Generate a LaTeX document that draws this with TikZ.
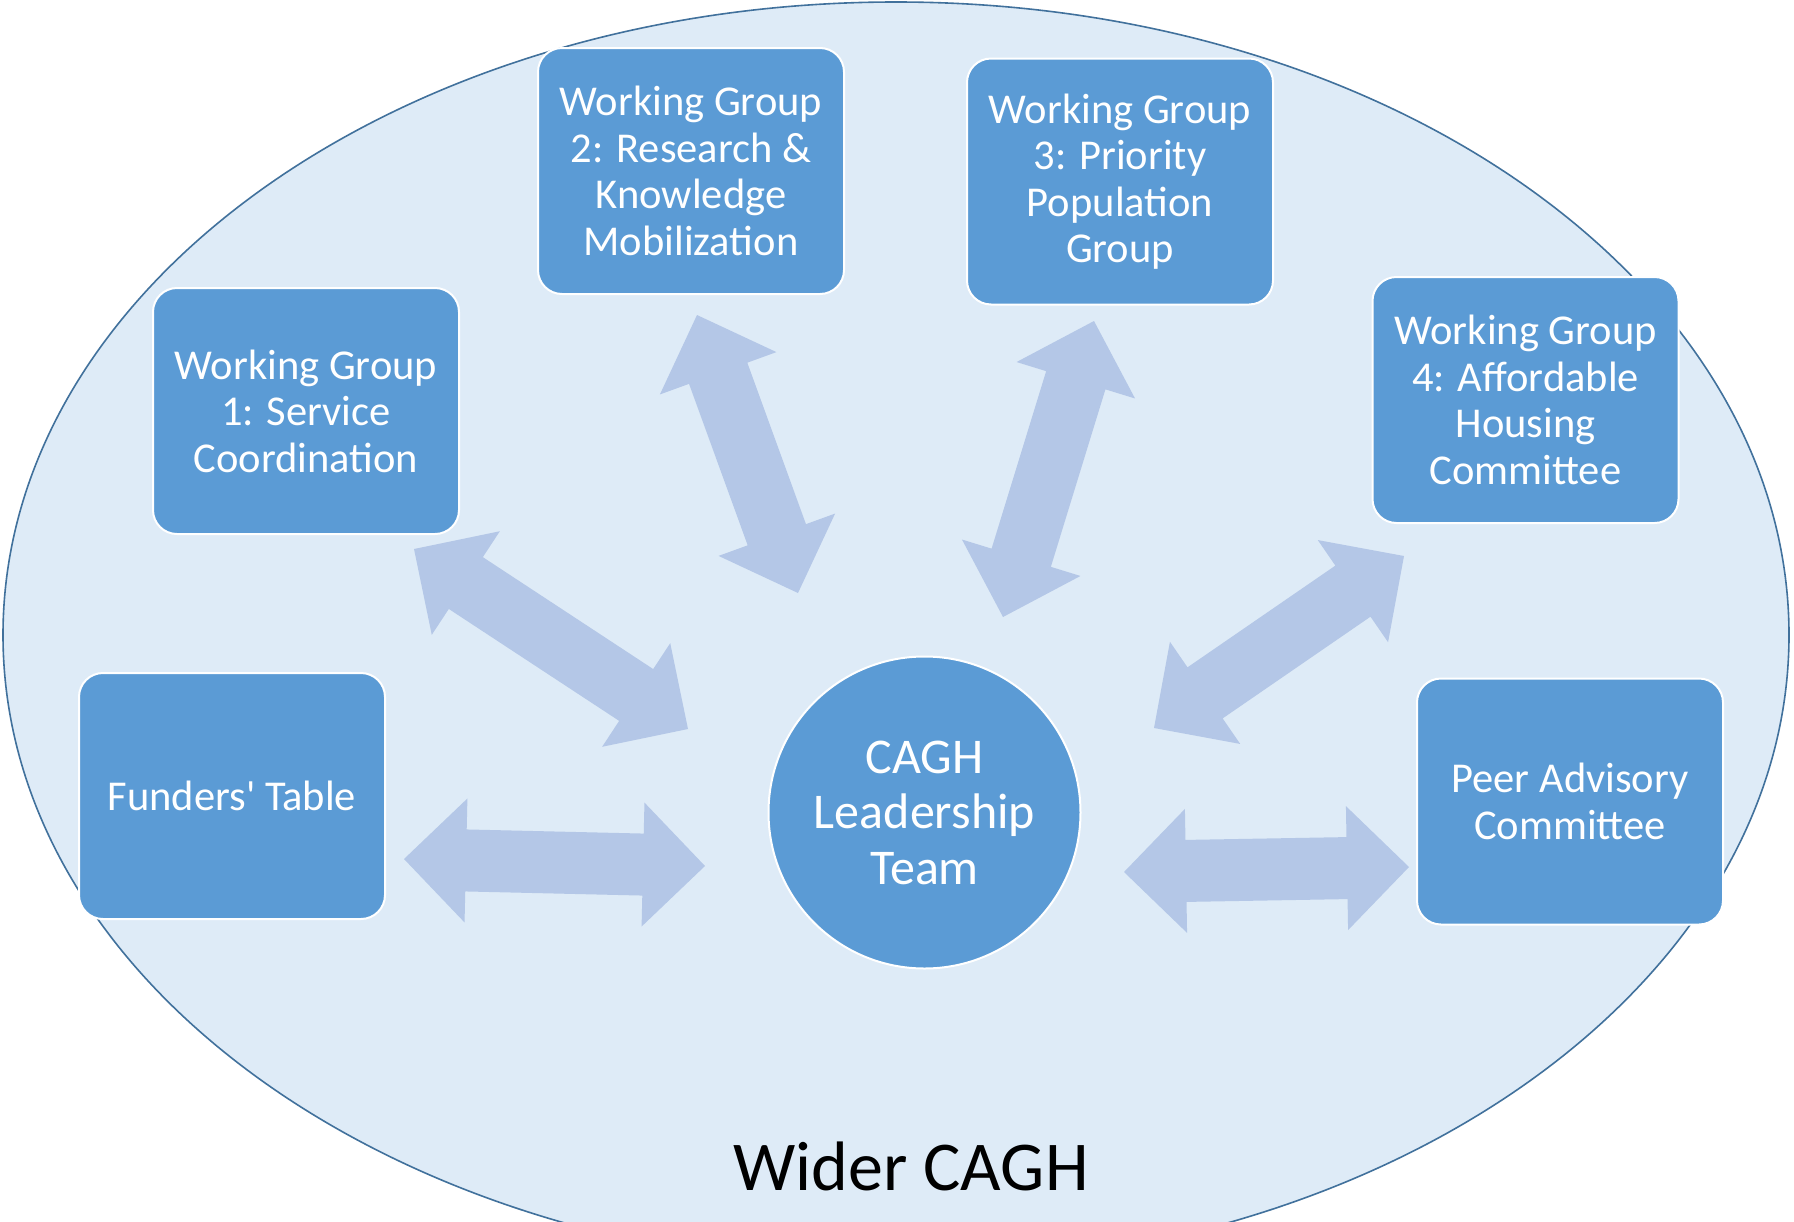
\documentclass[tikz,border=0pt]{standalone}
\usepackage{fontspec}
\setmainfont{Carlito}
\usetikzlibrary{calc}
\definecolor{ellfill}{HTML}{DEEBF7}
\definecolor{elldraw}{HTML}{41719C}
\definecolor{boxfill}{HTML}{5B9BD5}
\definecolor{arrfill}{HTML}{B4C7E7}
\tikzset{
  grp/.style={rectangle, rounded corners=24pt, fill=boxfill, draw=white, line width=2pt,
    minimum width=306pt, minimum height=246pt, text=white, align=center,
    font=\fontsize{42.5}{46.5}\selectfont, inner sep=0pt},
  lead/.style={circle, fill=boxfill, draw=white, line width=2pt, minimum size=312pt,
    text=white, align=center, font=\fontsize{50}{55.5}\selectfont, inner sep=0pt},
  blockarrow/.style={fill=arrfill, draw=none},
  outer/.style={fill=ellfill, draw=elldraw, line width=1.6pt},
  caption/.style={anchor=base, text=black, font=\fontsize{70}{80}\selectfont, inner sep=0pt},
}
\newcommand{\dblarrow}[2]{%
  \coordinate (h1) at ($(#1)!62pt!(#2)$);
  \coordinate (h2) at ($(#2)!62pt!(#1)$);
  \fill[blockarrow] (#1) -- ($(h1)!62pt!90:(#2)$) -- ($(h1)!31pt!90:(#2)$)
    -- ($(h2)!31pt!-90:(#1)$) -- ($(h2)!62pt!-90:(#1)$) -- (#2)
    -- ($(h2)!62pt!90:(#1)$) -- ($(h2)!31pt!90:(#1)$)
    -- ($(h1)!31pt!-90:(#2)$) -- ($(h1)!62pt!-90:(#2)$) -- cycle;
}
\begin{document}
\begin{tikzpicture}[x=1pt,y=-1pt]
\useasboundingbox (0,0) rectangle (1794,1221);
\fill[white] (0,0) rectangle (1794,1221);
\begin{scope}
\clip (0,0) rectangle (1794,1221);
\draw[outer] (896,635) ellipse [x radius=893pt, y radius=633pt];
\end{scope}

% arrow end points
\coordinate (fA) at (404,859);   \coordinate (fB) at (705,866);
\coordinate (w1A) at (414,549);  \coordinate (w1B) at (688,729);
\coordinate (w2A) at (697,315);  \coordinate (w2B) at (798,593);
\coordinate (w3A) at (1094,321); \coordinate (w3B) at (1003,617);
\coordinate (w4A) at (1404,556); \coordinate (w4B) at (1154,728);
\coordinate (pA) at (1124,872);  \coordinate (pB) at (1409,867);

\dblarrow{fA}{fB}
\dblarrow{w1A}{w1B}
\dblarrow{w2A}{w2B}
\dblarrow{w3A}{w3B}
\dblarrow{w4A}{w4B}
\dblarrow{pA}{pB}

\node[grp] (wg1) at (306,411) {Working Group\\1: Service\\Coordination};
\node[grp] (wg2) at (691,171) {Working Group\\2: Research \&\\Knowledge\\Mobilization};
\node[grp] (wg3) at (1120,181.5) {Working Group\\3: Priority\\Population\\Group};
\node[grp] (wg4) at (1525.5,400) {Working Group\\4: Affordable\\Housing\\Committee};
\node[grp] (fund) at (232,796) {Funders\textquotesingle\ Table};
\node[grp] (peer) at (1570,801.5) {Peer Advisory\\Committee};
\node[lead] (lead) at (924.5,812.5) {CAGH\\Leadership\\Team};
\node[caption] (wider) at (911,1190) {Wider CAGH};
\end{tikzpicture}
\end{document}
